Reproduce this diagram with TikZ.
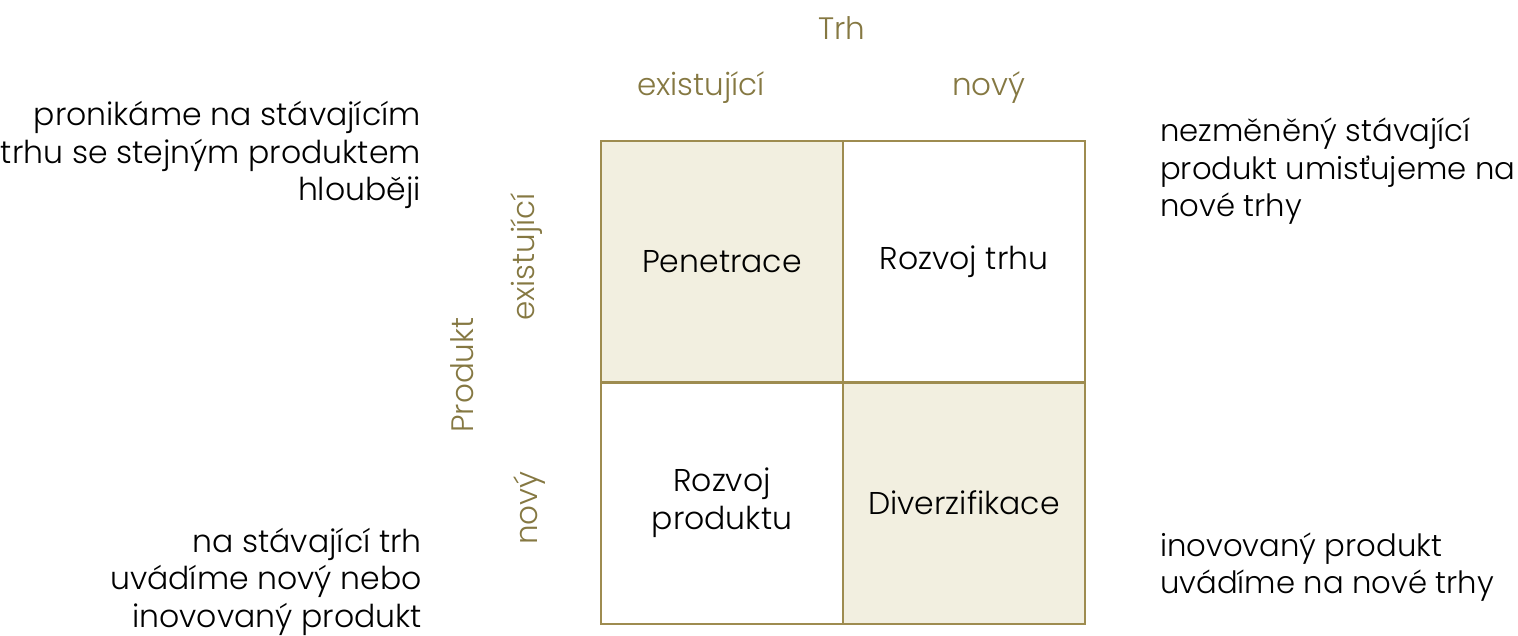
\documentclass[tikz,border=0pt]{standalone}
\usepackage{fontspec}
\setmainfont{Poppins Light}
\definecolor{gridline}{HTML}{9E8C50}
\definecolor{cellfill}{HTML}{F2EFE0}
\definecolor{labelcol}{HTML}{857842}
\begin{document}
\begin{tikzpicture}[x=1pt,y=-1pt,
  cellbox/.style={draw=gridline,line width=2pt,minimum width=242pt,minimum height=241pt,inner sep=0pt,align=center,font=\fontsize{31.5}{38}\selectfont},
  axislabel/.style={text=labelcol,font=\fontsize{31}{30}\selectfont,inner sep=0pt},
  note/.style={inner sep=0pt,font=\fontsize{31.5}{37.5}\selectfont},
  rnote/.style={inner sep=0pt,font=\fontsize{30.7}{37.5}\selectfont}]
\useasboundingbox (0,0) rectangle (1518,636);
\node[cellbox,fill=cellfill] (pen) at (722,261.5) {Penetrace};
\node[cellbox] (rtrh) at (964,261.5) {Rozvoj trhu};
\node[cellbox] (rprod) at (722,503) {Rozvoj\\produktu};
\node[cellbox,fill=cellfill] (div) at (964,503) {Diverzifikace};
\node[axislabel] (trh) at (842,28) {Trh};
\node[axislabel] (mex) at (701,88) {existující};
\node[axislabel] (mnov) at (989,88) {nový};
\node[axislabel,rotate=90] (pex) at (527,257) {existující};
\node[axislabel,rotate=90] (prod) at (462,375) {Produkt};
\node[axislabel,rotate=90] (pnov) at (530,508) {nový};
\node[note,align=right,anchor=north east] (tl) at (421,101.5) {pronikáme na stávajícím\\trhu se stejným produktem\\hlouběji};
\node[note,align=right,anchor=north east] (bl) at (422,528) {na stávající trh\\uvádíme nový nebo\\inovovaný produkt};
\node[rnote,align=left,anchor=north west] (tr) at (1160,118) {nezměněný stávající\\produkt umisťujeme na\\nové trhy};
\node[rnote,align=left,anchor=north west] (br) at (1160,532.5) {inovovaný produkt\\uvádíme na nové trhy};
\end{tikzpicture}
\end{document}
